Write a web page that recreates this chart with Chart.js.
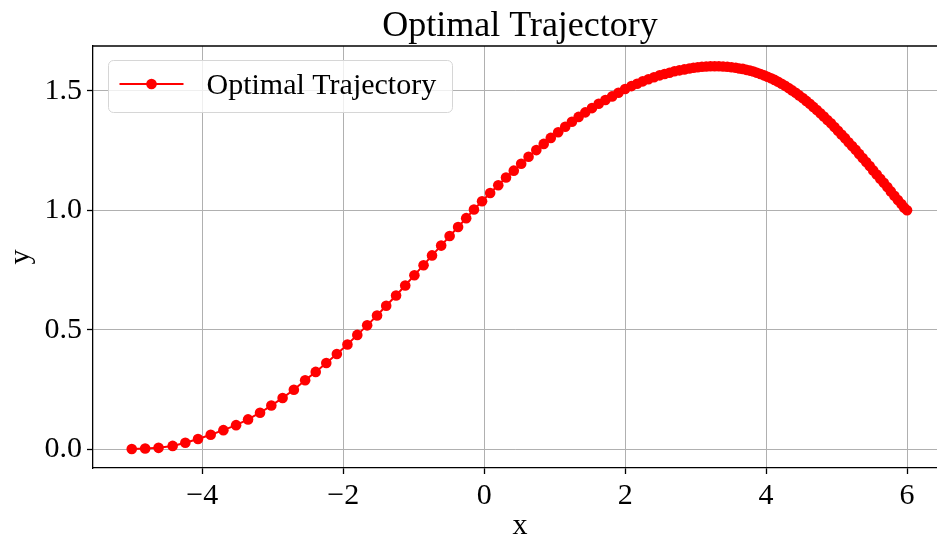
<!DOCTYPE html>
<html><head><meta charset="utf-8">
<script src="https://cdn.jsdelivr.net/npm/chart.js@4/dist/chart.umd.min.js"></script>
<style>
html,body{margin:0;padding:0;overflow:hidden;background:#fff;width:937px;height:544px}
canvas{display:block}
</style></head>
<body><canvas id="c" width="937" height="544"></canvas>
<script>
// Data
const xValues = [
  -5.00, -4.81, -4.62, -4.42, -4.24, -4.06, -3.88, -3.70, -3.52, -3.35, -3.18, -3.02, -2.86, -2.70, -2.54,
  -2.39, -2.24, -2.09, -1.94, -1.80, -1.66, -1.52, -1.39, -1.25, -1.12, -0.99, -0.86, -0.74, -0.61, -0.49,
  -0.37, -0.255, -0.145, -0.03, 0.085, 0.20,
  0.31, 0.42, 0.525, 0.63, 0.74, 0.845, 0.945, 1.05, 1.15, 1.245, 1.34, 1.435, 1.53, 1.625, 1.72, 1.815,
  1.905, 2.00, 2.09, 2.17, 2.25, 2.33, 2.41, 2.49, 2.56, 2.63, 2.70, 2.77, 2.84, 2.91, 2.97,
  3.03, 3.09, 3.15, 3.21, 3.27, 3.33, 3.39, 3.45, 3.51, 3.57, 3.62, 3.67, 3.72, 3.77, 3.82, 3.87, 3.92, 3.97,
  4.02, 4.07, 4.12, 4.17, 4.22, 4.27, 4.32, 4.37, 4.42, 4.47, 4.52, 4.57, 4.62, 4.67, 4.72, 4.77, 4.82, 4.87, 4.92, 4.97,
  5.02, 5.07, 5.12, 5.17, 5.22, 5.27, 5.32, 5.37, 5.42, 5.47, 5.52, 5.57, 5.62, 5.67, 5.72, 5.77, 5.82, 5.87, 5.92,
  5.96, 6.00
];
const yValues = [
  0.000, 0.002, 0.005, 0.013, 0.026, 0.042, 0.060, 0.079, 0.100, 0.124, 0.152, 0.182, 0.214, 0.248, 0.288,
  0.323, 0.360, 0.398, 0.438, 0.478, 0.518, 0.559, 0.600, 0.643, 0.685, 0.728, 0.770, 0.811, 0.852, 0.892,
  0.930, 0.967, 1.003, 1.038, 1.072, 1.105,
  1.137, 1.166, 1.195, 1.224, 1.252, 1.278, 1.303, 1.327, 1.350, 1.371, 1.391, 1.410, 1.428, 1.446, 1.462, 1.477,
  1.492, 1.508, 1.520, 1.530, 1.540, 1.549, 1.557, 1.565, 1.571, 1.576, 1.582, 1.586, 1.590, 1.594, 1.597,
  1.599, 1.601, 1.602, 1.603, 1.603, 1.603, 1.602, 1.601, 1.599, 1.597, 1.594, 1.592, 1.588, 1.585, 1.581, 1.576, 1.571, 1.565,
  1.559, 1.553, 1.546, 1.538, 1.530, 1.521, 1.512, 1.502, 1.492, 1.481, 1.470, 1.458, 1.446, 1.433, 1.420, 1.406, 1.393, 1.378, 1.364, 1.349,
  1.333, 1.317, 1.302, 1.285, 1.269, 1.253, 1.236, 1.219, 1.202, 1.185, 1.167, 1.150, 1.132, 1.115, 1.097, 1.079, 1.061, 1.043, 1.026,
  1.011, 1.000
];
const xTickValues = [-4, -2, 0, 2, 4, 6];
const xTickLabels = ['\u22124', '\u22122', '0', '2', '4', '6'];
const yTickValues = [0, 0.5, 1.0, 1.5];
const yTickLabels = ['0.0', '0.5', '1.0', '1.5'];
const seriesLabel = 'Optimal Trajectory';
const chartTitle = 'Optimal Trajectory';
const xAxisLabel = 'x';
const yAxisLabel = 'y';
// the reference figure is cut at its right edge, so the visible x range ends near 6.42
const xRange = [-5.55, 6.425];
const yRange = [-0.0795, 1.688];
// horizontal offset of title and x label (their centre sits over the uncut axes)
const centreShift = 5;

const FONT = "'Liberation Serif', 'Times New Roman', serif";

const framePlugin = {
  id: 'frameTop',
  afterLayout(chart) {
    const tb = chart.titleBlock;
    if (tb && !tb._shifted) {
      tb.left += centreShift; tb.right += centreShift; tb._shifted = true;
    }
    const xs = chart.scales.x;
    if (xs && !xs._wrapped) {
      const orig = xs.drawTitle;
      xs.drawTitle = function () {
        this.ctx.save();
        this.ctx.translate(centreShift, 0);
        orig.apply(this, arguments);
        this.ctx.restore();
      };
      xs._wrapped = true;
    }
  },
  afterDraw(chart) {
    const {ctx, chartArea: a} = chart;
    ctx.save();
    ctx.strokeStyle = '#000';
    ctx.lineWidth = 1.3;
    ctx.beginPath();
    ctx.moveTo(a.left - 0.6, a.top);
    ctx.lineTo(a.right, a.top);
    ctx.stroke();
    ctx.restore();
  }
};

const legendPlugin = {
  id: 'mplLegend',
  afterDatasetsDraw(chart) {
    const {ctx, chartArea: a} = chart;
    const ds = chart.data.datasets[0];
    const bx = a.left + 15.5, by = a.top + 14.5, bw = 344, bh = 52, r = 5;
    ctx.save();
    ctx.beginPath();
    ctx.moveTo(bx + r, by);
    ctx.lineTo(bx + bw - r, by);
    ctx.arcTo(bx + bw, by, bx + bw, by + r, r);
    ctx.lineTo(bx + bw, by + bh - r);
    ctx.arcTo(bx + bw, by + bh, bx + bw - r, by + bh, r);
    ctx.lineTo(bx + r, by + bh);
    ctx.arcTo(bx, by + bh, bx, by + bh - r, r);
    ctx.lineTo(bx, by + r);
    ctx.arcTo(bx, by, bx + r, by, r);
    ctx.closePath();
    ctx.fillStyle = 'rgba(255,255,255,0.8)';
    ctx.fill();
    ctx.strokeStyle = '#d6d6d6';
    ctx.lineWidth = 1;
    ctx.stroke();
    const ly = by + 23.5;
    ctx.strokeStyle = ds.borderColor;
    ctx.lineWidth = ds.borderWidth;
    ctx.beginPath();
    ctx.moveTo(bx + 11, ly);
    ctx.lineTo(bx + 75, ly);
    ctx.stroke();
    ctx.fillStyle = ds.pointBackgroundColor;
    ctx.beginPath();
    ctx.arc(bx + 43, ly, ds.pointRadius, 0, Math.PI * 2);
    ctx.fill();
    ctx.fillStyle = '#000';
    ctx.font = '30px ' + FONT;
    ctx.textBaseline = 'alphabetic';
    ctx.textAlign = 'left';
    ctx.fillText(ds.label, bx + 98, by + 33);
    ctx.restore();
  }
};

const tickFont = {family: FONT, size: 30, weight: 'normal'};

new Chart(document.getElementById('c').getContext('2d'), {
  type: 'line',
  data: {
    datasets: [{
      label: seriesLabel,
      data: xValues.map((x, i) => ({x: x, y: yValues[i]})),
      borderColor: '#ff0000',
      backgroundColor: '#ff0000',
      pointBackgroundColor: '#ff0000',
      borderWidth: 2,
      pointRadius: 5.3,
      pointHoverRadius: 5.3,
      pointBorderWidth: 0,
      tension: 0,
      fill: false
    }]
  },
  options: {
    responsive: false,
    animation: false,
    events: [],
    devicePixelRatio: 1,
    layout: {padding: 0, autoPadding: false},
    plugins: {
      legend: {display: false},
      tooltip: {enabled: false},
      title: {
        display: true, text: chartTitle, fullSize: false, color: '#000',
        font: {family: FONT, size: 36, weight: 'normal', lineHeight: 1},
        padding: {top: 9, bottom: 1}
      }
    },
    scales: {
      x: {
        type: 'linear', min: xRange[0], max: xRange[1],
        afterBuildTicks: s => { s.ticks = xTickValues.map(v => ({value: v})); },
        afterFit: s => { s.height = 76; s.paddingLeft = 0; s.paddingRight = 0; },
        ticks: {
          callback: (v, i) => xTickLabels[i], color: '#000', font: tickFont,
          padding: 4, maxRotation: 0, autoSkip: false
        },
        grid: {color: '#b0b0b0', lineWidth: 1, tickColor: '#000', tickLength: 6, tickWidth: 1.3, drawTicks: true},
        border: {display: true, color: '#000', width: 1.3},
        title: {display: true, text: xAxisLabel, color: '#000', font: {family: FONT, size: 30, weight: 'normal'}, padding: {top: 0, bottom: 0}}
      },
      y: {
        type: 'linear', min: yRange[0], max: yRange[1],
        afterBuildTicks: s => { s.ticks = yTickValues.map(v => ({value: v})); },
        afterFit: s => { s.width = 93; s.paddingTop = 0; s.paddingBottom = 0; },
        ticks: {callback: (v, i) => yTickLabels[i], color: '#000', font: tickFont, padding: 5, autoSkip: false},
        grid: {color: '#b0b0b0', lineWidth: 1, tickColor: '#000', tickLength: 6, tickWidth: 1.3, drawTicks: true},
        border: {display: true, color: '#000', width: 1.3},
        title: {display: true, text: yAxisLabel, color: '#000', font: {family: FONT, size: 30, weight: 'normal', lineHeight: 1}, padding: {top: 6, bottom: 0}}
      }
    }
  },
  plugins: [framePlugin, legendPlugin]
});
</script>
</body></html>
